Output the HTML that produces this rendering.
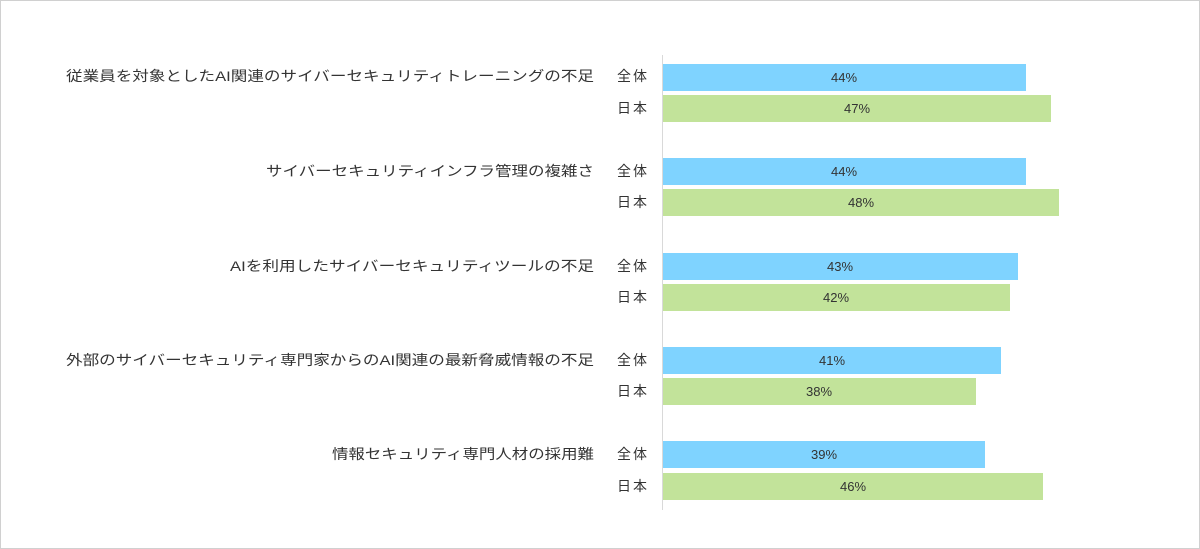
<!DOCTYPE html>
<html><head><meta charset="utf-8"><style>
html,body{margin:0;padding:0;background:#fff}
svg{display:block}
text{font-family:"Liberation Sans","Noto Sans CJK JP",sans-serif;fill:#333}
</style></head><body>
<svg width="1200" height="549" viewBox="0 0 1200 549">
<rect x="0.5" y="0.5" width="1199" height="548" fill="#fff" stroke="#d0d0d0"/>
<line x1="662.5" y1="55" x2="662.5" y2="510" stroke="#d9d9d9"/>
<g font-size="14">
<text x="66" y="81" textLength="528" lengthAdjust="spacingAndGlyphs">従業員を対象としたAI関連のサイバーセキュリティトレーニングの不足</text>
<text x="266" y="176" textLength="328" lengthAdjust="spacingAndGlyphs">サイバーセキュリティインフラ管理の複雑さ</text>
<text x="230" y="271" textLength="364" lengthAdjust="spacingAndGlyphs">AIを利用したサイバーセキュリティツールの不足</text>
<text x="66" y="365" textLength="528" lengthAdjust="spacingAndGlyphs">外部のサイバーセキュリティ専門家からのAI関連の最新脅威情報の不足</text>
<text x="332" y="459" textLength="262" lengthAdjust="spacingAndGlyphs">情報セキュリティ専門人材の採用難</text>
</g>
<g font-size="14">
<text x="617" y="81" textLength="30">全体</text><text x="617" y="113" textLength="30">日本</text>
<text x="617" y="176" textLength="30">全体</text><text x="617" y="207" textLength="30">日本</text>
<text x="617" y="271" textLength="30">全体</text><text x="617" y="302" textLength="30">日本</text>
<text x="617" y="365" textLength="30">全体</text><text x="617" y="396" textLength="30">日本</text>
<text x="617" y="459" textLength="30">全体</text><text x="617" y="491" textLength="30">日本</text>
</g>
<g>
<rect x="663" y="64" width="363" height="27" fill="#7fd3ff"/>
<rect x="663" y="95" width="388" height="27" fill="#c2e39a"/>
<rect x="663" y="158" width="363" height="27" fill="#7fd3ff"/>
<rect x="663" y="189" width="396" height="27" fill="#c2e39a"/>
<rect x="663" y="253" width="355" height="27" fill="#7fd3ff"/>
<rect x="663" y="284" width="347" height="27" fill="#c2e39a"/>
<rect x="663" y="347" width="338" height="27" fill="#7fd3ff"/>
<rect x="663" y="378" width="313" height="27" fill="#c2e39a"/>
<rect x="663" y="441" width="322" height="27" fill="#7fd3ff"/>
<rect x="663" y="473" width="380" height="27" fill="#c2e39a"/>
</g>
<g font-size="13" text-anchor="middle">
<text x="844" y="82">44%</text><text x="857" y="113">47%</text>
<text x="844" y="176">44%</text><text x="861" y="207">48%</text>
<text x="840" y="271">43%</text><text x="836" y="302">42%</text>
<text x="832" y="365">41%</text><text x="819" y="396">38%</text>
<text x="824" y="459">39%</text><text x="853" y="491">46%</text>
</g>
</svg>
</body></html>
